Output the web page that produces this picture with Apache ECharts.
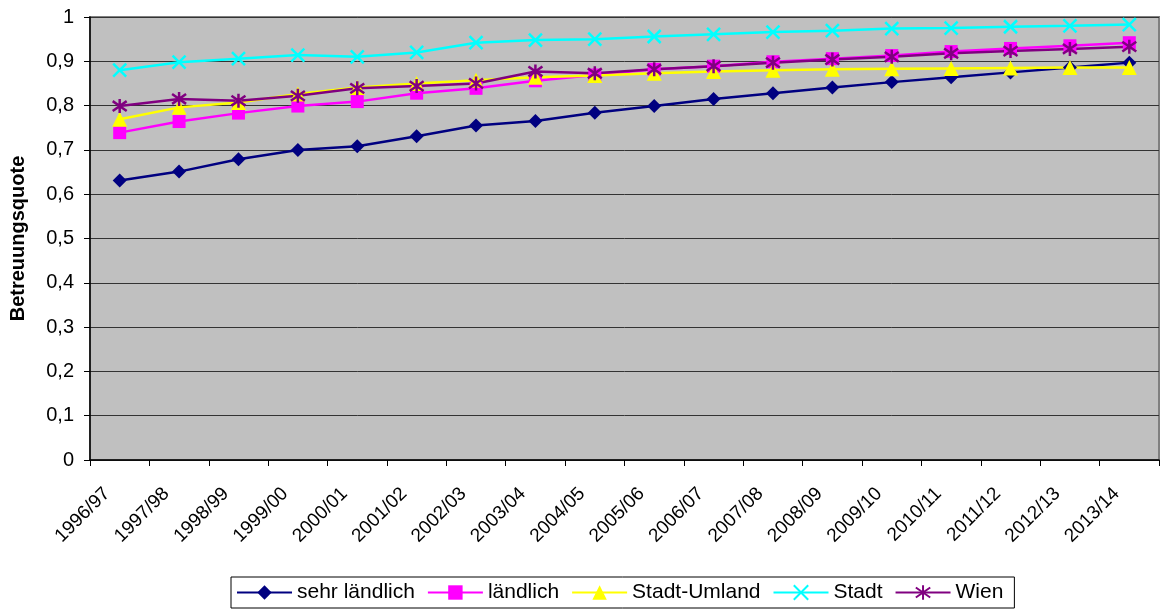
<!DOCTYPE html>
<html><head><meta charset="utf-8">
<script src="https://cdn.jsdelivr.net/npm/echarts@6/dist/echarts.min.js"></script>
<style>html,body{margin:0;padding:0;background:#fff}#c{width:1165px;height:612px}</style>
</head><body><div id="c"></div>
<script>
const categories = ['1996/97','1997/98','1998/99','1999/00','2000/01','2001/02','2002/03','2003/04','2004/05','2005/06','2006/07','2007/08','2008/09','2009/10','2010/11','2011/12','2012/13','2013/14'];
const sehrLaendlich = [0.631,0.651,0.679,0.700,0.708,0.731,0.755,0.765,0.784,0.799,0.815,0.828,0.841,0.853,0.864,0.875,0.886,0.897];
const laendlich = [0.739,0.764,0.783,0.799,0.809,0.828,0.839,0.856,0.869,0.882,0.889,0.899,0.906,0.913,0.922,0.929,0.935,0.942];
const stadtUmland = [0.769,0.796,0.807,0.826,0.841,0.850,0.857,0.864,0.868,0.873,0.877,0.880,0.882,0.883,0.884,0.885,0.886,0.886];
const stadt = [0.880,0.898,0.906,0.914,0.910,0.920,0.942,0.948,0.950,0.956,0.961,0.966,0.969,0.974,0.975,0.978,0.980,0.983];
const wien = [0.799,0.815,0.811,0.822,0.839,0.844,0.850,0.877,0.873,0.882,0.889,0.897,0.904,0.910,0.918,0.923,0.928,0.933];
const yTicks = {min:0, max:1, interval:0.1};

const crossPath = 'path://M0,0L10,10M10,0L0,10';
const starPath = 'path://M5,0L5,10M0,1.5L10,8.5M10,1.5L0,8.5';

function ser(name, data, color, symbol, size, stroke) {
  return {
    name, type:'line', data, symbol, symbolSize:size,
    lineStyle:{color, width:2.5},
    itemStyle: stroke ? {color:'rgba(0,0,0,0)', borderColor:color, borderWidth:2.5} : {color, borderColor:color, borderWidth:0},
    color, animation:false
  };
}

const chart = echarts.init(document.getElementById('c'));
chart.setOption({
  animation:false,
  textStyle:{fontFamily:'Liberation Sans, Arial, sans-serif'},
  grid:{left:89, right:6, top:17, bottom:152, show:true, backgroundColor:'#C0C0C0', borderColor:'#808080', borderWidth:2},
  xAxis:{
    type:'category', data:categories, boundaryGap:true,
    axisLine:{lineStyle:{color:'#000', width:1.5}},
    axisTick:{show:true, alignWithLabel:false, length:6, lineStyle:{color:'#000'}},
    axisLabel:{rotate:45, fontSize:19, color:'#000', margin:18, interval:0, padding:[0,18,0,0]}
  },
  yAxis:{
    type:'value', min:yTicks.min, max:yTicks.max, interval:yTicks.interval,
    name:'Betreuungsquote', nameLocation:'middle', nameGap:62, nameRotate:90,
    nameTextStyle:{fontWeight:'bold', fontSize:20, color:'#000'},
    axisLine:{show:true, lineStyle:{color:'#000', width:1.5}},
    axisTick:{show:true, length:6, lineStyle:{color:'#000'}},
    axisLabel:{fontSize:20, color:'#000', margin:16, formatter:v => String(Math.round(v*10)/10).replace('.', ',')},
    splitLine:{show:true, lineStyle:{color:'#333', width:1}}
  },
  legend:{
    left:231, top:577,
    borderColor:'#000', borderWidth:1, padding:[5,11,5,5],
    itemWidth:55, itemHeight:18, itemGap:12,
    textStyle:{fontSize:21, color:'#000'},
    data:['sehr ländlich','ländlich','Stadt-Umland','Stadt','Wien']
  },
  series:[
    ser('sehr ländlich', sehrLaendlich, '#000080', 'diamond', 14, false),
    ser('ländlich', laendlich, '#FF00FF', 'rect', 13, false),
    ser('Stadt-Umland', stadtUmland, '#FFFF00', 'triangle', 15, false),
    ser('Stadt', stadt, '#00FFFF', crossPath, 13, true),
    ser('Wien', wien, '#800080', starPath, 14, true)
  ]
});
</script>
</body></html>
